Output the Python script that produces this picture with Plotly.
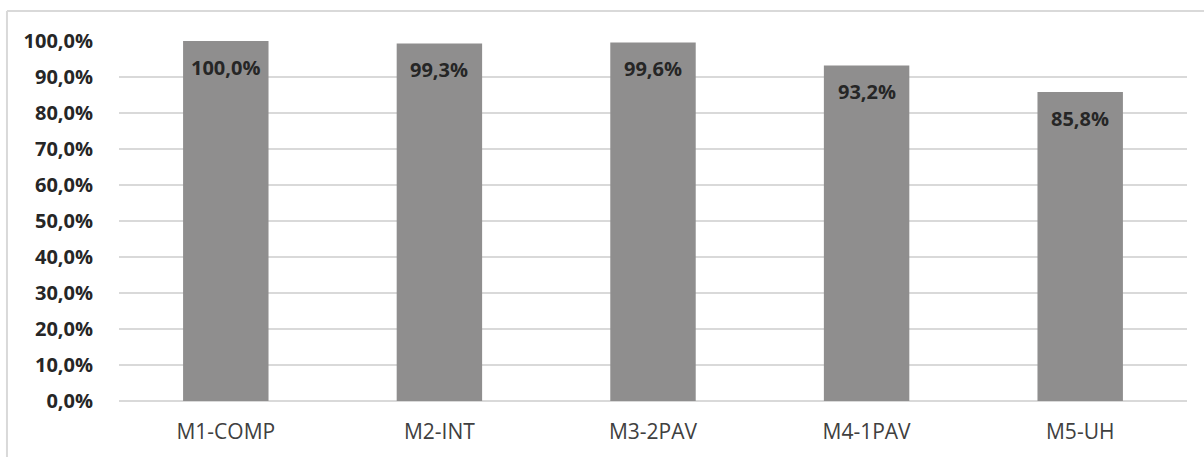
import plotly.graph_objects as go

categories = ["M1-COMP", "M2-INT", "M3-2PAV", "M4-1PAV", "M5-UH"]
values = [1.000, 0.993, 0.996, 0.932, 0.858]
y_ticks = [i / 10 for i in range(11)]

bar_color = "#8f8e8e"
grid_color = "#d9d9d9"
text_color = "#262626"
font_family = "Open Sans, Noto Sans, sans-serif"

fig = go.Figure()
fig.add_trace(go.Bar(
    x=categories,
    y=values,
    marker=dict(color=bar_color, line=dict(width=0)),
    hoverinfo="skip",
))

# value labels just inside the top of each bar
for cat, val in zip(categories, values):
    fig.add_annotation(
        x=cat, y=val, xref="x", yref="y",
        text=f"<b>{val * 100:.1f}%</b>".replace(".", ","),
        showarrow=False, yanchor="middle", yshift=-26,
        font=dict(family=font_family, size=20, color=text_color),
    )

# frame lines along the top and left edges of the chart area
fig.add_shape(type="line", xref="paper", yref="paper",
              x0=-0.1049, x1=1.05, y0=1.083, y1=1.083,
              line=dict(color=grid_color, width=2))
fig.add_shape(type="line", xref="paper", yref="paper",
              x0=-0.1049, x1=-0.1049, y0=1.083, y1=-0.2,
              line=dict(color=grid_color, width=2))

fig.update_layout(
    width=1204, height=457,
    margin=dict(l=119, r=17, t=41, b=54),
    paper_bgcolor="white", plot_bgcolor="white",
    separators=",.",
    bargap=0.6,
    showlegend=False,
    font=dict(family=font_family, color=text_color),
)
fig.update_xaxes(
    showgrid=False, showline=False, zeroline=False,
    ticks="outside", ticklen=12, tickcolor="rgba(0,0,0,0)",
    tickfont=dict(size=21, color="#404040"),
)
fig.update_yaxes(
    range=[0, 1.0], tickvals=y_ticks, tickformat=".1%",
    showgrid=True, gridcolor=grid_color, gridwidth=1.5,
    zeroline=True, zerolinecolor=grid_color, zerolinewidth=1.5,
    showline=False,
    ticks="outside", ticklen=21, tickcolor="rgba(0,0,0,0)",
    tickfont=dict(size=20, color=text_color, weight="bold"),
)

fig.write_html("out.html")
